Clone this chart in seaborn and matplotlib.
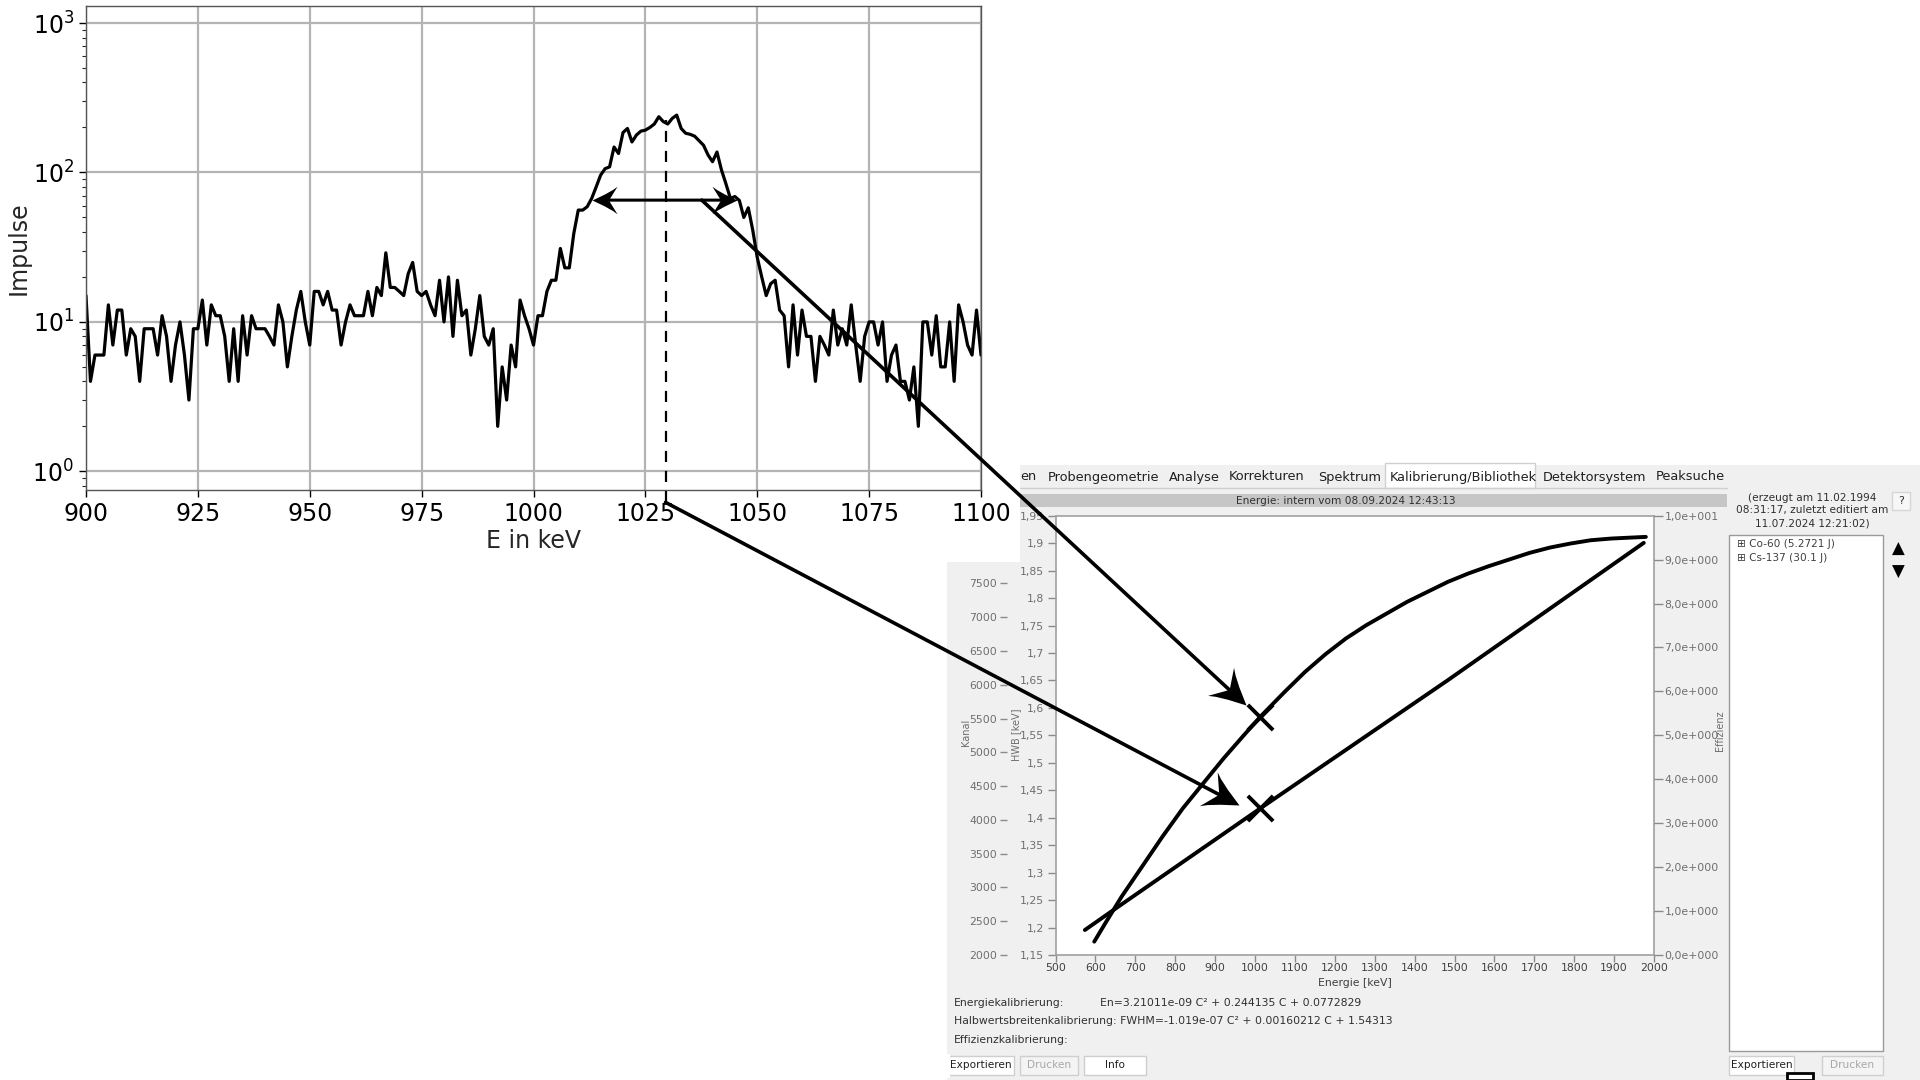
import numpy as np
import matplotlib
matplotlib.use("Agg")
import matplotlib.pyplot as plt
import seaborn as sns
from matplotlib.patches import Rectangle, ConnectionPatch
from matplotlib.path import Path
from matplotlib.markers import MarkerStyle
from matplotlib.transforms import Affine2D
from matplotlib.ticker import FixedLocator, FixedFormatter, LogLocator

# ---------------- data: gamma spectrum (1 keV bins) ----------------
energy_keV = list(range(900, 1101))
counts = [
    15, 4, 6, 6, 6, 13, 7, 12, 12, 6,          # 900-909
    9, 8, 4, 9, 9, 9, 6, 11, 8, 4,             # 910-919
    7, 10, 6, 3, 9, 9, 14, 7, 13, 11,          # 920-929
    11, 8, 4, 9, 4, 11, 6, 11, 9, 9,           # 930-939
    9, 8, 7, 13, 10, 5, 8, 12, 16, 10,         # 940-949
    7, 16, 16, 13, 16, 12, 12, 7, 10, 13,      # 950-959
    11, 11, 11, 16, 11, 17, 15, 29, 17, 17,    # 960-969
    16, 15, 21, 25, 16, 15, 16, 13, 11, 19,    # 970-979
    10, 20, 8, 19, 11, 12, 6, 9, 15, 8,        # 980-989
    7, 9, 2, 5, 3, 7, 5, 14, 11, 9,            # 990-999
    7, 11, 11, 16, 19, 19, 31, 23, 23, 39,     # 1000-1009
    56, 56, 59, 67, 80, 96, 106, 109, 148, 134,    # 1010-1019
    185, 197, 160, 178, 189, 192, 200, 211, 236, 219,  # 1020-1029
    211, 230, 242, 197, 183, 180, 175, 163, 152, 131,  # 1030-1039
    118, 137, 104, 84, 67, 69, 65, 50, 58, 41,     # 1040-1049
    27, 20, 15, 18, 19, 12, 11, 5, 13, 6,      # 1050-1059
    12, 8, 8, 4, 8, 7, 6, 12, 7, 9,            # 1060-1069
    7, 13, 7, 4, 8, 10, 10, 7, 10, 4,          # 1070-1079
    6, 7, 4, 4, 3, 5, 2, 10, 10, 6,            # 1080-1089
    11, 5, 5, 10, 4, 13, 10, 7, 6, 12,         # 1090-1099
    6,                                          # 1100
]
x_ticks_spec = [900, 925, 950, 975, 1000, 1025, 1050, 1075, 1100]
peak_centre_keV = 1029.5
peak_top_counts = 224
fwhm_left_keV, fwhm_right_keV, fwhm_level = 1013.0, 1045.4, 65.3

# ---------------- data: calibration screenshot ----------------
curveA_E = [597.1, 624.7, 665.6, 716.8, 767.9, 819.0, 870.1, 921.3, 972.4, 1013.3,
            1074.6, 1125.8, 1176.9, 1228.0, 1279.1, 1330.3, 1381.4, 1432.5, 1483.6,
            1534.8, 1585.9, 1637.0, 1688.1, 1739.3, 1790.4, 1841.5, 1892.6, 1943.8, 1979.6]
curveA_H = [1.1743, 1.2077, 1.2562, 1.3108, 1.3654, 1.4170, 1.4625, 1.5080, 1.5505, 1.5839,
            1.6294, 1.6658, 1.6979, 1.7265, 1.7507, 1.7720, 1.7932, 1.8114, 1.8296,
            1.8448, 1.8581, 1.8702, 1.8823, 1.8920, 1.8993, 1.9053, 1.9084, 1.9102, 1.9114]
curveB_E = [573.6, 645.2, 1013.3, 1483.6, 1974.4]
curveB_H = [1.1955, 1.2319, 1.4170, 1.6506, 1.9006]
cross_E = [1013.3, 1013.3]
cross_H = [1.5839, 1.4170]

energie_ticks = list(range(500, 2001, 100))
hwb_ticks = [1.15, 1.2, 1.25, 1.3, 1.35, 1.4, 1.45, 1.5, 1.55, 1.6, 1.65, 1.7, 1.75, 1.8, 1.85, 1.9, 1.95]
hwb_labels = ["1,15", "1,2", "1,25", "1,3", "1,35", "1,4", "1,45", "1,5", "1,55", "1,6",
              "1,65", "1,7", "1,75", "1,8", "1,85", "1,9", "1,95"]
kanal_ticks = [2000, 2500, 3000, 3500, 4000, 4500, 5000, 5500, 6000, 6500, 7000, 7500]
eff_ticks = [0, 1, 2, 3, 4, 5, 6, 7, 8, 9, 10]
eff_labels = ["0,0e+000", "1,0e+000", "2,0e+000", "3,0e+000", "4,0e+000", "5,0e+000",
              "6,0e+000", "7,0e+000", "8,0e+000", "9,0e+000", "1,0e+001"]
tabs = ["en", "Probengeometrie", "Analyse", "Korrekturen", "Spektrum",
        "Kalibrierung/Bibliothek", "Detektorsystem", "Peaksuche"]
tab_x = [1020, 1048, 1169, 1229, 1318, 1390, 1543, 1656]

# ---------------- style ----------------
sns.set_style("white")
plt.rcParams["font.family"] = ["DejaVu Sans"]
UI = ["DejaVu Sans"]
GRAY_TXT = "#6e6e6e"

W, H = 1920, 1080
fig = plt.figure(figsize=(19.2, 10.8), dpi=100)
fig.patch.set_facecolor("white")

def fx(px):
    return px / W

def fy(py):
    return 1 - py / H

# stealth-like arrow head (tip at origin, pointing to +x)
_head_verts = [(0, 0), (-0.5, 0.24), (-0.82, 0.42), (-1.0, 0.55), (-0.66, 0.0),
               (-1.0, -0.55), (-0.82, -0.42), (-0.5, -0.24), (0, 0)]
_head_codes = [Path.MOVETO] + [Path.LINETO] * 7 + [Path.CLOSEPOLY]
HEAD_PATH = Path(_head_verts, _head_codes)

def head_marker(angle_deg):
    return MarkerStyle(HEAD_PATH, transform=Affine2D().rotate_deg(angle_deg))

def disp_angle(tA, pA, tB, pB):
    a = tA.transform(pA)
    b = tB.transform(pB)
    return np.degrees(np.arctan2(b[1] - a[1], b[0] - a[0]))

# background "screenshot" canvas in pixel units
bg = fig.add_axes([0, 0, 1, 1])
bg.set_zorder(-5)
bg.set_xlim(0, W)
bg.set_ylim(H, 0)
bg.axis("off")
panel = "#f0f0f0"
bg.add_patch(Rectangle((947, 562), W - 947, H - 562, color=panel, lw=0))
bg.add_patch(Rectangle((1020, 465), W - 1020, 562 - 465, color=panel, lw=0))
bg.plot([1020, 1727], [488, 488], color="#d0d0d0", lw=1)
bg.add_patch(Rectangle((1385, 463), 150, 25, facecolor="white", edgecolor="#cfcfcf", lw=1))
for t, x in zip(tabs, tab_x):
    bg.text(x, 477, t, fontsize=9.3, family=UI, color="#202020", va="center", ha="left")
bg.add_patch(Rectangle((1020, 494), 707, 13, color="#c6c6c6", lw=0))
bg.text(1346, 500.5, "Energie: intern vom 08.09.2024 12:43:13", fontsize=7.6, family=UI,
        color="#303030", ha="center", va="center")
for i, line in enumerate(["(erzeugt am 11.02.1994", "08:31:17, zuletzt editiert am",
                          "11.07.2024 12:21:02)"]):
    bg.text(1812, 498 + 12.5 * i, line, fontsize=7.6, family=UI, color="#303030",
            ha="center", va="center")
bg.add_patch(Rectangle((1892, 492), 18, 18, facecolor="#f7f7f7", edgecolor="#d6d6d6", lw=1))
bg.text(1901, 501, "?", fontsize=8, family=UI, color="#303030", ha="center", va="center")
bg.add_patch(Rectangle((1729, 535), 154, 516, facecolor="white", edgecolor="#9a9a9a", lw=1))
bg.text(1737, 544, "⊞ Co-60 (5.2721 J)", fontsize=7.6, family=UI, color="#404040", va="center")
bg.text(1737, 558, "⊞ Cs-137 (30.1 J)", fontsize=7.6, family=UI, color="#404040", va="center")
bg.text(1898, 549, "▲", fontsize=12, color="black", ha="center", va="center")
bg.text(1898, 572, "▼", fontsize=12, color="black", ha="center", va="center")
bg.text(954, 1003, "Energiekalibrierung:", fontsize=7.8, family=UI, color="#303030", va="center")
bg.text(1100, 1003, "En=3.21011e-09 C² + 0.244135 C + 0.0772829", fontsize=7.8, family=UI,
        color="#303030", va="center")
bg.text(954, 1021, "Halbwertsbreitenkalibrierung: FWHM=-1.019e-07 C² + 0.00160212 C + 1.54313",
        fontsize=7.8, family=UI, color="#303030", va="center")
bg.text(954, 1040, "Effizienzkalibrierung:", fontsize=7.8, family=UI, color="#303030", va="center")
buttons = [(947, 67, "Exportieren", "#202020"), (1020, 58, "Drucken", "#a8a8a8"),
           (1084, 62, "Info", "#202020"), (1729, 65, "Exportieren", "#202020"),
           (1822, 61, "Drucken", "#a8a8a8")]
for x0, w, lab, c in buttons:
    bg.add_patch(Rectangle((x0, 1056), w, 19, facecolor="white" if c != "#a8a8a8" else "#f4f4f4",
                           edgecolor="#cfcfcf", lw=1))
    bg.text(x0 + w / 2, 1065.5, lab, fontsize=7.6, family=UI, color=c, ha="center", va="center")
bg.add_patch(Rectangle((940, 1054), 10, 24, color="white", lw=0))
bg.add_patch(Rectangle((1787, 1073), 26, 7, facecolor="white", edgecolor="black", lw=2))

# ---------------- spectrum axes ----------------
ax1 = fig.add_axes([fx(86), fy(490), fx(981) - fx(86), fy(6) - fy(490)])
ax1.set_facecolor("white")
sns.lineplot(x=energy_keV, y=counts, ax=ax1, color="black", lw=2.3, estimator=None)
ax1.set_yscale("log")
ax1.set_xlim(900, 1100)
ax1.set_ylim(0.75, 1300)
ax1.set_xticks(x_ticks_spec)
ax1.yaxis.set_major_locator(FixedLocator([1, 10, 100, 1000]))
ax1.yaxis.set_minor_locator(LogLocator(base=10, subs=np.arange(2, 10)))
ax1.grid(True, which="major", color="#b4b4b4", lw=1.6)
ax1.tick_params(axis="both", which="major", labelsize=17, length=5, width=1,
                left=True, bottom=True, colors="black")
ax1.tick_params(axis="y", which="minor", length=3, width=0.8, left=True)
for s in ax1.spines.values():
    s.set_color("#555555")
    s.set_linewidth(1.0)
ax1.set_xlabel("E in keV", fontsize=17, labelpad=2)
ax1.set_ylabel("Impulse", fontsize=17, labelpad=1)
ax1.vlines(peak_centre_keV, 0.62, peak_top_counts, colors="black", linestyles=(0, (5, 4)),
           lw=1.6, clip_on=False, zorder=4)
ax1.annotate("", xy=(fwhm_left_keV + 2, fwhm_level), xytext=(fwhm_right_keV - 2, fwhm_level),
             arrowprops=dict(arrowstyle="-", color="black", lw=2.2, shrinkA=0, shrinkB=0))
for xe, ang in ((fwhm_left_keV, 180), (fwhm_right_keV, 0)):
    ax1.plot([xe], [fwhm_level], marker=head_marker(ang), markersize=36, color="black",
             markeredgewidth=0, linestyle="none", clip_on=False, zorder=12)

# ---------------- calibration plot (screenshot) ----------------
ax2 = fig.add_axes([fx(1055.5), fy(955), fx(1654) - fx(1055.5), fy(515.7) - fy(955)])
ax2.set_facecolor("white")
sns.lineplot(x=curveA_E, y=curveA_H, ax=ax2, color="black", lw=2.8, estimator=None, sort=False)
sns.lineplot(x=curveB_E, y=curveB_H, ax=ax2, color="black", lw=2.8, estimator=None, sort=False)
sns.scatterplot(x=cross_E, y=cross_H, ax=ax2, marker="x", s=330, color="black",
                linewidth=2.8, zorder=5)
ax2.set_xlim(500, 2000)
ax2.set_ylim(1.15, 1.95)
ax2.set_xticks(energie_ticks)
ax2.yaxis.set_major_locator(FixedLocator(hwb_ticks))
ax2.yaxis.set_major_formatter(FixedFormatter(hwb_labels))
ax2.tick_params(axis="x", direction="out", length=5, width=1, colors="#8a8a8a",
                labelcolor="#404040", labelsize=7.8, pad=1, bottom=True)
ax2.tick_params(axis="y", direction="out", length=6, width=1, colors="#8a8a8a",
                labelcolor=GRAY_TXT, labelsize=7.8, pad=2, left=True)
for lab in ax2.get_xticklabels() + ax2.get_yticklabels():
    lab.set_family(UI)
for s in ax2.spines.values():
    s.set_color("#a0a0a0")
    s.set_linewidth(1.2)
ax2.set_xlabel("Energie [keV]", fontsize=7.8, family=UI, color="#404040", labelpad=3)
ax2.set_ylabel("")

ax_e = ax2.twinx()
ax_e.set_ylim(0, 10)
ax_e.yaxis.set_major_locator(FixedLocator(eff_ticks))
ax_e.yaxis.set_major_formatter(FixedFormatter(eff_labels))
ax_e.tick_params(axis="y", direction="out", length=6.5, width=1, colors="#8a8a8a",
                 labelcolor=GRAY_TXT, labelsize=7.8, pad=1, right=True)
for s in ax_e.spines.values():
    s.set_visible(False)
ax_k = ax2.twinx()
ax_k.set_ylim(2000, 2000 + 6502)
ax_k.yaxis.set_ticks_position("left")
ax_k.spines["left"].set_position(("axes", -0.081))
ax_k.yaxis.set_major_locator(FixedLocator(kanal_ticks))
ax_k.tick_params(axis="y", direction="out", length=5, width=1, colors="#8a8a8a",
                 labelcolor=GRAY_TXT, labelsize=7.8, pad=2, left=True, right=False)
for s in ax_k.spines.values():
    s.set_visible(False)
for a in (ax_e, ax_k):
    for lab in a.get_yticklabels():
        lab.set_family(UI)

fig.text(fx(966), fy(732), "Kanal", rotation=90, fontsize=7, color=GRAY_TXT,
         ha="center", va="center", family=UI)
fig.text(fx(1016), fy(735), "HWB [keV]", rotation=90, fontsize=7, color=GRAY_TXT,
         ha="center", va="center", family=UI)
fig.text(fx(1720), fy(731), "Effizienz", rotation=90, fontsize=7, color=GRAY_TXT,
         ha="center", va="center", family=UI)

# ---------------- connecting arrows ----------------
start1, end1 = (1037.6, fwhm_level), (977, 1.605)
start2, end2 = (peak_centre_keV, 0.62), (960, 1.423)
for sA, eB in ((start1, end1), (start2, end2)):
    con = ConnectionPatch(xyA=sA, coordsA=ax1.transData, xyB=eB, coordsB=ax2.transData,
                          arrowstyle="-", color="black", lw=2.6, shrinkA=0, shrinkB=12, zorder=10)
    fig.add_artist(con)
    ang = disp_angle(ax1.transData, sA, ax2.transData, eB)
    tip = fig.transFigure.inverted().transform(ax2.transData.transform(eB))
    fig.add_artist(plt.Line2D([tip[0]], [tip[1]], marker=head_marker(ang), markersize=50,
                              color="black", markeredgewidth=0, linestyle="none",
                              transform=fig.transFigure, zorder=12))

fig.savefig("out.png", dpi=100, facecolor="white")
